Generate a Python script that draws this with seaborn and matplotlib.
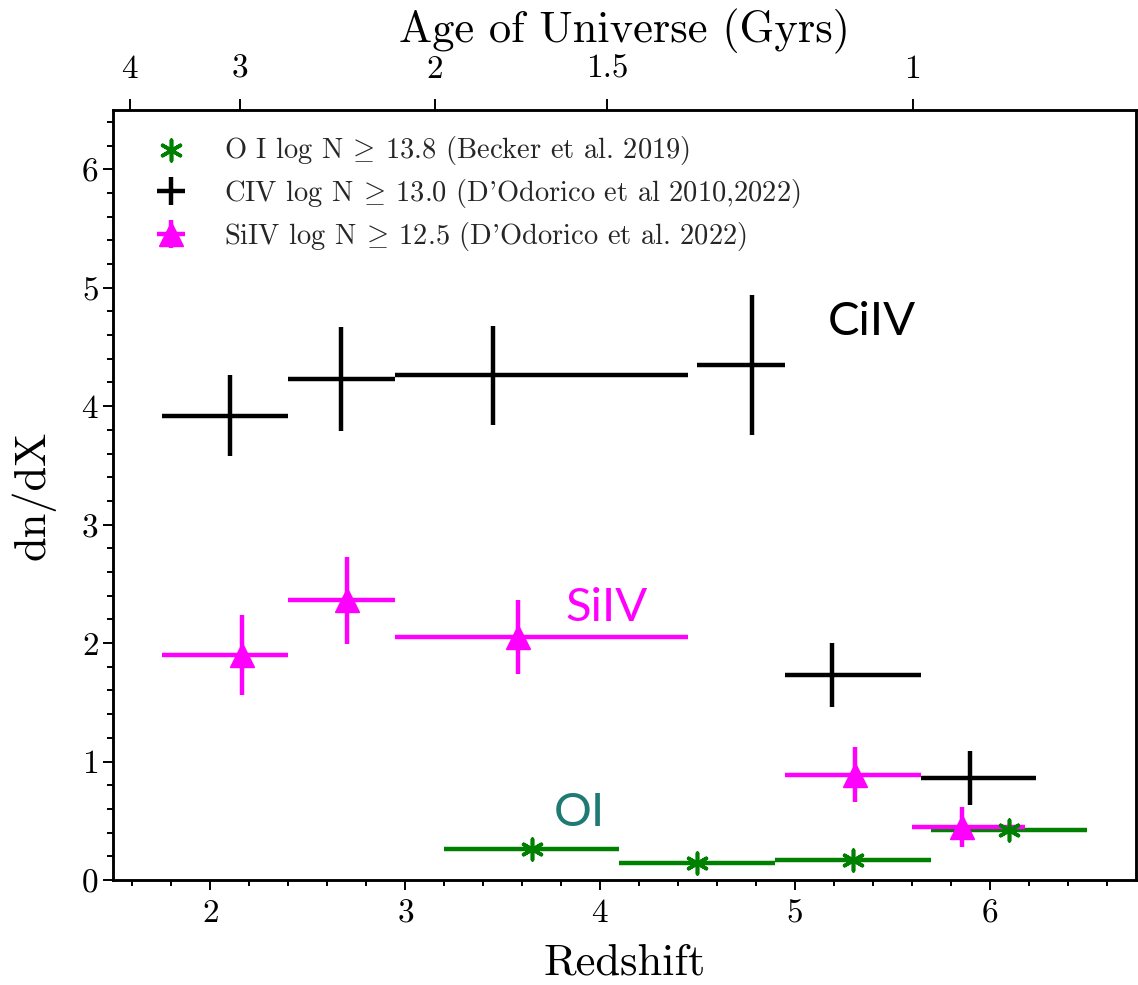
import numpy as np
import pandas as pd
import matplotlib
matplotlib.use("Agg")
import matplotlib.pyplot as plt
from matplotlib.ticker import MultipleLocator, NullLocator
import seaborn as sns

# C IV absorbers: bin centre, bin edges, dn/dX and 1-sigma error
civ_z = [2.10, 2.67, 3.45, 4.78, 5.19, 5.90]
civ_zlo = [1.75, 2.40, 2.95, 4.50, 4.95, 5.65]
civ_zhi = [2.40, 2.95, 4.45, 4.95, 5.65, 6.24]
civ_dndx = [3.92, 4.23, 4.26, 4.35, 1.73, 0.86]
civ_err = [0.34, 0.44, 0.42, 0.59, 0.27, 0.23]

# Si IV absorbers
siv_z = [2.16, 2.70, 3.58, 5.31, 5.86]
siv_zlo = [1.75, 2.40, 2.95, 4.95, 5.60]
siv_zhi = [2.40, 2.95, 4.45, 5.65, 6.18]
siv_dndx = [1.90, 2.36, 2.05, 0.89, 0.45]
siv_err = [0.34, 0.37, 0.31, 0.23, 0.17]

# O I absorbers
oi_z = [3.65, 4.50, 5.30, 6.10]
oi_zlo = [3.20, 4.10, 4.90, 5.70]
oi_zhi = [4.10, 4.90, 5.70, 6.50]
oi_dndx = [0.26, 0.14, 0.17, 0.42]

# Top axis: age of the Universe in Gyr
age_ticks = [4, 3, 2, 1.5, 1]
age_labels = ["4", "3", "2", "1.5", "1"]

labels = [
    r"O I log N $\!\geq\!$ 13.8 (Becker et al. 2019)",
    r"CIV log N $\!\geq\!$ 13.0 (D'Odorico et al 2010,2022)",
    r"SiIV log N $\!\geq\!$ 12.5 (D'Odorico et al. 2022)",
]

# Flat LCDM (H0 = 70, Om = 0.3): redshift at which the Universe has age t
H0, OM = 70.0, 0.3
OL = 1.0 - OM
T_H = 2.0 * (977.8 / H0) / (3.0 * np.sqrt(OL))


def z_at_age(t):
    return (np.sqrt(OL / OM) / np.sinh(np.asarray(t) / T_H)) ** (2.0 / 3.0) - 1.0


sns.set_theme(style="ticks")
plt.rcParams.update({
    "font.family": "serif",
    "font.serif": ["cmr10"],
    "mathtext.fontset": "cm",
    "axes.formatter.use_mathtext": True,
    "axes.unicode_minus": False,
})

fig = plt.figure(figsize=(11.38, 9.85), dpi=100)
ax = fig.add_axes([0.0993, 0.1066, 0.8987, 0.7817])

LW = 3.2


def xerr_of(z, lo, hi):
    z = np.asarray(z)
    return np.vstack([z - np.asarray(lo), np.asarray(hi) - z])


# O I: bin bars plus asterisk markers
ax.errorbar(oi_z, oi_dndx, xerr=xerr_of(oi_z, oi_zlo, oi_zhi), fmt="none",
            ecolor="green", elinewidth=LW, capsize=0, zorder=2)
oi_df = pd.DataFrame({"z": oi_z, "dndx": oi_dndx})
sns.scatterplot(data=oi_df, x="z", y="dndx", ax=ax, marker=(6, 2, 0), s=220,
                color="green", edgecolor="green", linewidth=2.6,
                label=labels[0], zorder=3)

# C IV
ax.errorbar(civ_z, civ_dndx, xerr=xerr_of(civ_z, civ_zlo, civ_zhi), yerr=civ_err,
            fmt="none", ecolor="black", elinewidth=LW, capsize=0,
            label=labels[1], zorder=2)

# Si IV
ax.errorbar(siv_z, siv_dndx, xerr=xerr_of(siv_z, siv_zlo, siv_zhi), yerr=siv_err,
            fmt="^", color="magenta", ecolor="magenta", elinewidth=LW,
            markersize=17, capsize=0, label=labels[2], zorder=2)

ax.set_xlim(1.5, 6.75)
ax.set_ylim(0, 6.5)
ax.xaxis.set_major_locator(MultipleLocator(1))
ax.xaxis.set_minor_locator(MultipleLocator(0.2))
ax.yaxis.set_major_locator(MultipleLocator(1))
ax.yaxis.set_minor_locator(MultipleLocator(0.2))
ax.tick_params(which="both", direction="out", top=False, right=False,
               labelsize=24, width=1.4, color="black", labelcolor="black")
ax.tick_params(which="major", length=7)
ax.tick_params(which="minor", length=4)
ax.tick_params(axis="x", which="major", pad=6.5)
for sp in ax.spines.values():
    sp.set_linewidth(1.8)
    sp.set_color("black")
    sp.set_visible(True)

ax.set_xlabel("Redshift", fontsize=32, labelpad=11, color="black")
ax.set_ylabel("dn/dX", fontsize=32, labelpad=18, color="black")

# Age axis along the top
ax2 = ax.twiny()
ax2.set_xlim(ax.get_xlim())
ax2.set_xticks(z_at_age(age_ticks))
ax2.set_xticklabels(age_labels)
ax2.xaxis.set_minor_locator(NullLocator())
ax2.tick_params(axis="x", direction="out", length=8, width=1.4, labelsize=24,
                pad=11, color="black", labelcolor="black")
ax2.set_xlabel("Age of Universe (Gyrs)", fontsize=32, labelpad=9, color="black")
for sp in ax2.spines.values():
    sp.set_linewidth(1.8)
    sp.set_color("black")

# Ion labels
ion_font = dict(family=["Lato", "DejaVu Sans"], fontweight="normal", fontsize=34)
ax.text(5.17, 4.60, "CiIV", color="black", ha="left", va="baseline", **ion_font)
ax.text(3.82, 2.19, "SiIV", color="magenta", ha="left", va="baseline", **ion_font)
ax.text(3.76, 0.46, "OI", color="#1e7a72", ha="left", va="baseline", **ion_font)

ax.legend(loc="upper left", bbox_to_anchor=(0.015, 1.006), frameon=False,
          fontsize=20.5, handlelength=1.0, handletextpad=1.35,
          labelspacing=0.35, borderaxespad=0.6, scatterpoints=1)

fig.savefig("out.png", dpi=100)
